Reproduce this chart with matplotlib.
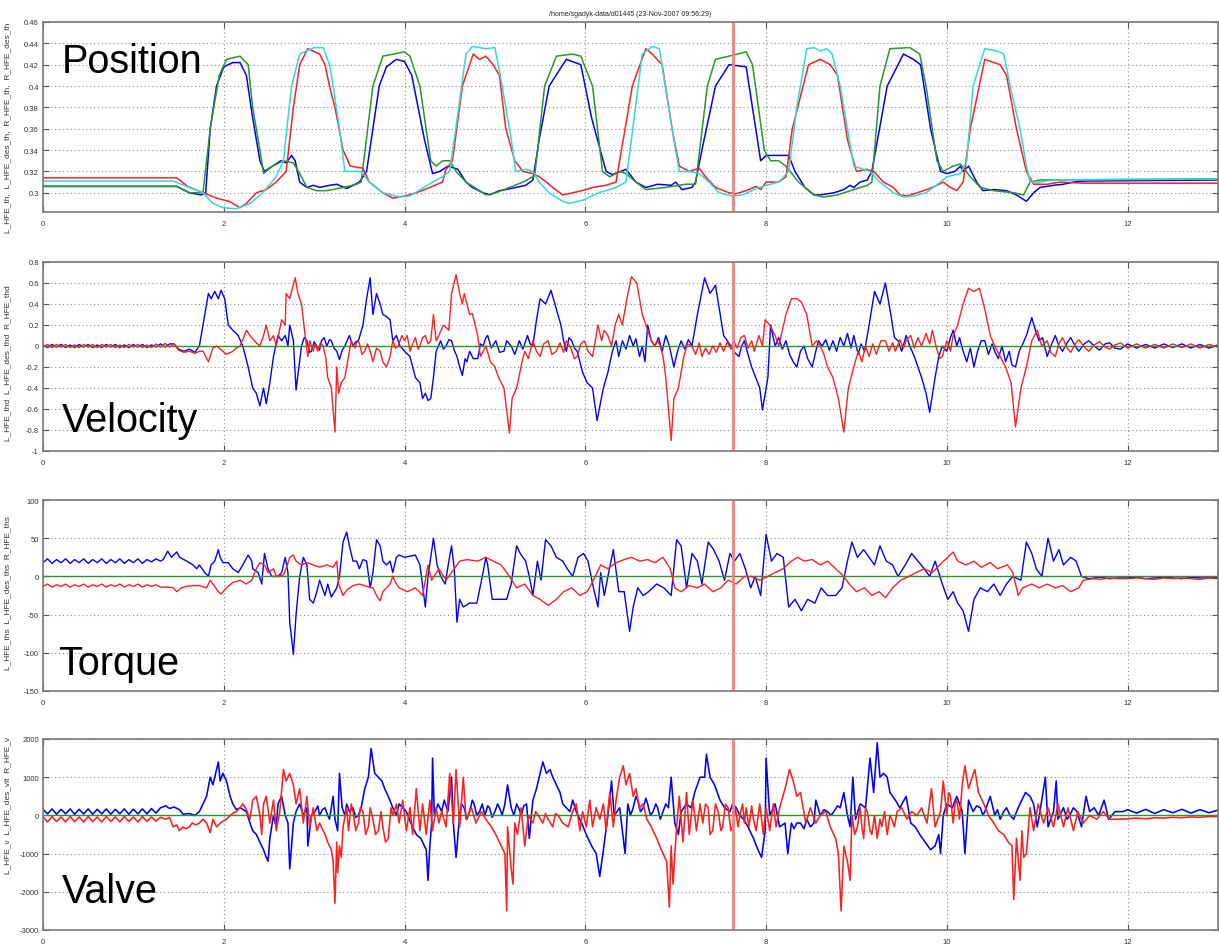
import matplotlib
matplotlib.use("Agg")
import matplotlib.pyplot as plt
import numpy as np

plt.rcParams['font.family'] = ['Liberation Sans', 'DejaVu Sans']

# ---------------- data (time in s) ----------------
rest_t = [0.0, 0.05, 0.1, 0.15, 0.2, 0.25, 0.3, 0.35, 0.4, 0.45, 0.5, 0.55, 0.6, 0.65,
          0.7, 0.75, 0.8, 0.85, 0.9, 0.95, 1.0, 1.05, 1.1, 1.15, 1.2, 1.25, 1.3, 1.35, 1.4]
tail_t = [12.0, 12.1, 12.2, 12.3, 12.4, 12.5, 12.6, 12.7, 12.8, 12.9, 13.0]

# Position (rad)
pos_blue = [(0, 0.306), (1.48, 0.306), (1.62, 0.300), (1.75, 0.298), (1.80, 0.30), (1.85, 0.36),
            (1.92, 0.40), (2.0, 0.418), (2.1, 0.422), (2.18, 0.422), (2.25, 0.41), (2.32, 0.37),
            (2.40, 0.33), (2.45, 0.32), (2.54, 0.325), (2.63, 0.33), (2.69, 0.328), (2.75, 0.335),
            (2.79, 0.33), (2.84, 0.31), (2.92, 0.305), (2.99, 0.307), (3.06, 0.305), (3.17, 0.307),
            (3.25, 0.308), (3.36, 0.304), (3.43, 0.307), (3.50, 0.31), (3.58, 0.32), (3.65, 0.36),
            (3.72, 0.40), (3.80, 0.418), (3.91, 0.425), (4.0, 0.423), (4.08, 0.41), (4.15, 0.38),
            (4.22, 0.35), (4.31, 0.318), (4.39, 0.32), (4.48, 0.325), (4.59, 0.322), (4.68, 0.31),
            (4.75, 0.305), (4.87, 0.30), (4.94, 0.298), (5.05, 0.302), (5.12, 0.303), (5.23, 0.305),
            (5.34, 0.307), (5.42, 0.312), (5.49, 0.35), (5.6, 0.40), (5.79, 0.425), (5.95, 0.42),
            (6.07, 0.37), (6.23, 0.32), (6.3, 0.317), (6.45, 0.322), (6.56, 0.31), (6.67, 0.305),
            (6.8, 0.308), (6.95, 0.307), (7.0, 0.31), (7.07, 0.303), (7.18, 0.305), (7.22, 0.31),
            (7.29, 0.34), (7.44, 0.40), (7.59, 0.42), (7.78, 0.418), (7.94, 0.33), (8.0, 0.335),
            (8.25, 0.335), (8.32, 0.32), (8.43, 0.305), (8.53, 0.298), (8.6, 0.298), (8.75, 0.30),
            (8.86, 0.303), (8.93, 0.307), (8.97, 0.305), (9.04, 0.31), (9.12, 0.312), (9.17, 0.32),
            (9.34, 0.40), (9.52, 0.43), (9.63, 0.425), (9.71, 0.42), (9.82, 0.36), (9.93, 0.32),
            (10.0, 0.318), (10.09, 0.32), (10.15, 0.325), (10.18, 0.32), (10.24, 0.325), (10.33, 0.31),
            (10.4, 0.302), (10.52, 0.303), (10.66, 0.302), (10.77, 0.298), (10.88, 0.292), (10.96, 0.30),
            (11.03, 0.305), (11.18, 0.307), (11.29, 0.308), (11.4, 0.31), (11.51, 0.311), (13.0, 0.312)]

pos_green = [(0, 0.306), (1.48, 0.306), (1.62, 0.30), (1.77, 0.30), (1.85, 0.36), (1.95, 0.41),
             (2.03, 0.425), (2.18, 0.428), (2.27, 0.42), (2.32, 0.38), (2.40, 0.34), (2.44, 0.318),
             (2.54, 0.325), (2.66, 0.33), (2.77, 0.328), (2.84, 0.318), (2.92, 0.305), (3.03, 0.302),
             (3.14, 0.302), (3.32, 0.305), (3.47, 0.308), (3.52, 0.31), (3.65, 0.40), (3.76, 0.428),
             (4.0, 0.432), (4.06, 0.428), (4.17, 0.40), (4.29, 0.33), (4.35, 0.325), (4.42, 0.33),
             (4.5, 0.33), (4.57, 0.32), (4.68, 0.31), (4.83, 0.302), (4.9, 0.298), (5.01, 0.30),
             (5.16, 0.305), (5.31, 0.31), (5.44, 0.316), (5.55, 0.40), (5.68, 0.428), (5.86, 0.43),
             (5.95, 0.428), (6.08, 0.40), (6.19, 0.32), (6.27, 0.315), (6.38, 0.32), (6.45, 0.318),
             (6.56, 0.31), (6.67, 0.303), (6.89, 0.305), (7.11, 0.308), (7.22, 0.308), (7.35, 0.40),
             (7.44, 0.425), (7.59, 0.428), (7.78, 0.432), (7.85, 0.42), (7.98, 0.34), (8.05, 0.33),
             (8.14, 0.33), (8.22, 0.325), (8.36, 0.31), (8.53, 0.298), (8.64, 0.296), (8.79, 0.298),
             (8.97, 0.303), (9.12, 0.307), (9.17, 0.31), (9.26, 0.40), (9.37, 0.435), (9.59, 0.436),
             (9.70, 0.43), (9.77, 0.40), (9.89, 0.33), (9.96, 0.32), (10.07, 0.325), (10.15, 0.327),
             (10.26, 0.315), (10.37, 0.305), (10.52, 0.302), (10.74, 0.30), (10.85, 0.298),
             (10.92, 0.31), (11.03, 0.312), (13.0, 0.313)]

pos_red = [(0, 0.314), (1.48, 0.314), (1.6, 0.306), (1.77, 0.30), (1.92, 0.295), (2.06, 0.292),
           (2.18, 0.286), (2.25, 0.29), (2.36, 0.30), (2.47, 0.303), (2.58, 0.31), (2.69, 0.32),
           (2.77, 0.38), (2.84, 0.42), (2.93, 0.435), (3.06, 0.43), (3.12, 0.42), (3.17, 0.40),
           (3.23, 0.38), (3.32, 0.34), (3.40, 0.325), (3.54, 0.323), (3.61, 0.31), (3.76, 0.30),
           (3.87, 0.295), (4.0, 0.297), (4.13, 0.30), (4.28, 0.305), (4.42, 0.31), (4.46, 0.322),
           (4.53, 0.33), (4.64, 0.40), (4.76, 0.43), (4.83, 0.425), (4.90, 0.428), (4.98, 0.42),
           (5.05, 0.41), (5.12, 0.36), (5.22, 0.33), (5.31, 0.32), (5.42, 0.318), (5.49, 0.315),
           (5.57, 0.31), (5.64, 0.305), (5.75, 0.298), (5.86, 0.30), (6.01, 0.303), (6.08, 0.305),
           (6.23, 0.307), (6.34, 0.31), (6.52, 0.40), (6.67, 0.435), (6.74, 0.43), (6.85, 0.42),
           (6.96, 0.36), (7.04, 0.325), (7.15, 0.32), (7.26, 0.323), (7.33, 0.315), (7.44, 0.305),
           (7.59, 0.30), (7.66, 0.299), (7.78, 0.302), (7.89, 0.306), (7.94, 0.303), (8.0, 0.31),
           (8.14, 0.31), (8.22, 0.315), (8.29, 0.36), (8.47, 0.42), (8.6, 0.425), (8.71, 0.42),
           (8.79, 0.41), (8.9, 0.35), (9.0, 0.32), (9.11, 0.322), (9.19, 0.32), (9.30, 0.31),
           (9.41, 0.305), (9.48, 0.298), (9.56, 0.297), (9.67, 0.30), (9.78, 0.303), (9.89, 0.307),
           (9.96, 0.31), (10.04, 0.305), (10.11, 0.302), (10.18, 0.31), (10.26, 0.36), (10.42, 0.425),
           (10.59, 0.42), (10.66, 0.41), (10.77, 0.36), (10.88, 0.32), (10.96, 0.308), (11.11, 0.308),
           (11.25, 0.31), (11.51, 0.309), (13.0, 0.309)]

pos_cyan = [(0, 0.311), (1.44, 0.311), (1.77, 0.30), (1.88, 0.29), (1.99, 0.286), (2.14, 0.285),
            (2.29, 0.29), (2.43, 0.30), (2.58, 0.315), (2.66, 0.33), (2.75, 0.40), (2.84, 0.43),
            (3.0, 0.436), (3.1, 0.436), (3.17, 0.42), (3.21, 0.40), (3.28, 0.36), (3.34, 0.32),
            (3.52, 0.32), (3.61, 0.31), (3.76, 0.30), (3.95, 0.296), (4.06, 0.297), (4.31, 0.31),
            (4.42, 0.315), (4.5, 0.32), (4.6, 0.38), (4.68, 0.43), (4.75, 0.437), (4.9, 0.435),
            (5.0, 0.436), (5.08, 0.40), (5.18, 0.35), (5.23, 0.32), (5.34, 0.322), (5.42, 0.32),
            (5.49, 0.31), (5.6, 0.30), (5.75, 0.292), (5.82, 0.29), (5.97, 0.293), (6.15, 0.30),
            (6.34, 0.305), (6.45, 0.31), (6.54, 0.37), (6.63, 0.43), (6.74, 0.437), (6.82, 0.435),
            (6.96, 0.36), (7.04, 0.32), (7.15, 0.32), (7.26, 0.318), (7.37, 0.31), (7.48, 0.30),
            (7.63, 0.297), (7.74, 0.298), (7.92, 0.305), (8.14, 0.31), (8.25, 0.32), (8.34, 0.38),
            (8.45, 0.435), (8.53, 0.436), (8.6, 0.433), (8.67, 0.435), (8.73, 0.43), (8.82, 0.40),
            (8.9, 0.36), (8.97, 0.325), (9.08, 0.322), (9.15, 0.32), (9.26, 0.31), (9.41, 0.30),
            (9.52, 0.296), (9.63, 0.297), (9.77, 0.30), (9.93, 0.31), (10.0, 0.315), (10.15, 0.318),
            (10.22, 0.33), (10.29, 0.40), (10.42, 0.435), (10.55, 0.433), (10.63, 0.43), (10.7, 0.40),
            (10.81, 0.36), (10.88, 0.325), (10.92, 0.31), (11.03, 0.31), (11.18, 0.312), (13.0, 0.313)]

# Velocity (rad/s)
vel_blue_rest = [0.01, -0.015, 0.015, -0.01, 0.015, -0.015, 0.01, -0.015, 0.015, -0.01, 0.015,
                 -0.015, 0.01, -0.015, 0.015, -0.01, 0.015, -0.015, 0.01, -0.015, 0.015, -0.01,
                 0.015, -0.015, 0.01, -0.01, 0.02, -0.01, 0.02]
vel_red_rest = [-0.01, 0.015, -0.015, 0.015, -0.01, 0.015, -0.015, 0.01, -0.015, 0.015, -0.01,
                0.015, -0.015, 0.015, -0.01, 0.015, -0.015, 0.01, -0.015, 0.015, -0.01, 0.015,
                -0.015, 0.01, -0.015, 0.02, -0.01, 0.025, -0.01]
vel_blue = [(1.45, 0.02), (1.50, -0.03), (1.56, -0.05), (1.62, -0.03), (1.68, -0.06), (1.73, 0.0),
            (1.79, 0.3), (1.83, 0.5), (1.86, 0.45), (1.90, 0.52), (1.94, 0.45), (1.97, 0.53),
            (2.01, 0.45), (2.05, 0.2), (2.10, 0.15), (2.16, 0.1), (2.21, 0.0), (2.27, -0.2),
            (2.32, -0.4), (2.36, -0.45), (2.40, -0.57), (2.44, -0.4), (2.47, -0.55), (2.51, -0.35),
            (2.55, -0.1), (2.60, 0.1), (2.64, 0.05), (2.68, 0.1), (2.71, 0.0), (2.73, 0.2),
            (2.77, 0.05), (2.80, -0.42), (2.86, 0.0), (2.89, 0.08), (2.92, 0.05), (2.95, -0.06),
            (2.97, -0.05), (3.00, 0.04), (3.03, 0.0), (3.06, -0.04), (3.08, 0.05), (3.11, 0.08),
            (3.14, 0.0), (3.17, 0.06), (3.19, 0.05), (3.22, -0.02), (3.25, -0.05), (3.28, -0.13),
            (3.31, -0.04), (3.34, 0.0), (3.37, 0.06), (3.39, 0.1), (3.43, 0.0), (3.46, 0.04),
            (3.49, 0.05), (3.54, 0.2), (3.58, 0.45), (3.62, 0.65), (3.65, 0.3), (3.69, 0.5),
            (3.73, 0.4), (3.76, 0.3), (3.80, 0.28), (3.84, 0.25), (3.87, 0.05), (3.91, 0.1),
            (3.95, 0.0), (4.00, -0.05), (4.06, -0.1), (4.12, -0.3), (4.17, -0.35), (4.20, -0.5),
            (4.23, -0.45), (4.26, -0.52), (4.29, -0.5), (4.32, -0.3), (4.35, -0.05), (4.40, 0.05),
            (4.43, -0.03), (4.46, 0.0), (4.49, 0.06), (4.52, 0.05), (4.55, -0.04), (4.58, -0.1),
            (4.61, -0.2), (4.64, -0.28), (4.67, -0.12), (4.69, -0.15), (4.72, -0.05), (4.76, -0.12),
            (4.81, -0.12), (4.84, 0.02), (4.87, 0.0), (4.90, 0.08), (4.92, 0.1), (4.96, -0.02),
            (5.01, 0.05), (5.05, -0.06), (5.10, -0.05), (5.13, 0.05), (5.18, 0.0), (5.22, -0.08),
            (5.27, 0.05), (5.31, -0.03), (5.36, 0.1), (5.39, 0.02), (5.42, 0.0), (5.46, 0.25),
            (5.50, 0.45), (5.56, 0.4), (5.62, 0.53), (5.68, 0.35), (5.73, 0.2), (5.76, 0.05),
            (5.79, -0.05), (5.82, 0.08), (5.85, 0.05), (5.88, -0.02), (5.91, -0.05), (5.94, -0.15),
            (5.97, -0.25), (6.02, -0.35), (6.08, -0.4), (6.13, -0.71), (6.20, -0.4), (6.25, -0.25),
            (6.30, -0.05), (6.34, 0.05), (6.37, -0.1), (6.41, 0.05), (6.45, -0.03), (6.49, 0.1),
            (6.53, 0.0), (6.56, 0.07), (6.60, -0.1), (6.63, 0.0), (6.66, -0.15), (6.69, 0.2),
            (6.73, 0.05), (6.77, 0.0), (6.81, 0.08), (6.85, -0.05), (6.89, 0.1), (6.93, 0.0),
            (6.98, -0.2), (7.02, -0.05), (7.06, 0.05), (7.10, -0.03), (7.14, 0.06), (7.18, 0.0),
            (7.24, 0.3), (7.32, 0.65), (7.38, 0.5), (7.44, 0.58), (7.53, 0.1), (7.57, 0.05),
            (7.61, 0.0), (7.65, -0.06), (7.70, -0.1), (7.73, 0.0), (7.76, 0.05), (7.80, -0.08),
            (7.84, -0.2), (7.93, -0.4), (7.96, -0.61), (8.02, -0.3), (8.05, 0.2), (8.10, 0.0),
            (8.14, 0.08), (8.18, -0.03), (8.22, 0.05), (8.26, -0.08), (8.30, -0.15), (8.34, -0.2),
            (8.38, -0.05), (8.42, 0.0), (8.46, -0.12), (8.51, -0.2), (8.55, -0.05), (8.58, 0.05),
            (8.62, 0.0), (8.66, 0.06), (8.70, -0.04), (8.74, 0.05), (8.78, -0.05), (8.82, 0.08),
            (8.86, 0.0), (8.90, 0.12), (8.94, -0.02), (8.97, 0.1), (9.02, -0.08), (9.05, 0.02),
            (9.09, -0.05), (9.14, 0.2), (9.20, 0.52), (9.26, 0.4), (9.32, 0.6), (9.38, 0.3),
            (9.42, 0.08), (9.46, 0.05), (9.50, -0.05), (9.55, 0.1), (9.59, 0.0), (9.64, -0.1),
            (9.68, -0.2), (9.72, -0.3), (9.77, -0.45), (9.81, -0.63), (9.87, -0.3), (9.91, -0.1),
            (9.95, 0.0), (10.00, -0.05), (10.04, 0.08), (10.07, 0.15), (10.11, 0.0), (10.14, 0.08),
            (10.18, -0.05), (10.22, -0.15), (10.26, -0.02), (10.30, -0.2), (10.34, -0.05),
            (10.38, 0.05), (10.42, 0.05), (10.46, -0.08), (10.50, 0.02), (10.53, -0.05),
            (10.57, -0.12), (10.61, 0.0), (10.65, -0.15), (10.69, -0.05), (10.72, -0.18),
            (10.76, -0.2), (10.80, -0.05), (10.84, 0.02), (10.88, 0.1), (10.94, 0.27), (10.98, 0.15),
            (11.02, 0.05), (11.06, 0.08), (11.11, -0.1), (11.16, 0.02), (11.20, 0.1), (11.24, 0.0),
            (11.28, -0.05), (11.33, 0.03), (11.37, 0.08), (11.42, 0.0), (11.46, -0.05), (11.52, 0.02),
            (11.57, 0.05), (11.63, 0.0), (11.69, -0.04), (11.75, 0.02), (11.80, 0.03), (11.86, -0.02),
            (11.92, -0.03)]
vel_red = [(1.45, 0.02), (1.50, -0.04), (1.56, -0.06), (1.62, -0.05), (1.68, -0.07), (1.73, -0.05),
           (1.77, -0.05), (1.83, -0.15), (1.88, -0.02), (1.92, 0.0), (1.99, -0.05), (2.03, -0.08),
           (2.10, -0.05), (2.14, -0.02), (2.18, 0.0), (2.22, 0.08), (2.25, 0.15), (2.29, 0.1),
           (2.33, 0.06), (2.36, 0.03), (2.40, 0.0), (2.44, 0.1), (2.47, 0.2), (2.51, 0.05),
           (2.55, 0.1), (2.58, 0.0), (2.61, 0.12), (2.64, 0.25), (2.68, 0.2), (2.69, 0.5),
           (2.73, 0.45), (2.76, 0.55), (2.79, 0.65), (2.82, 0.5), (2.86, 0.4), (2.90, 0.1),
           (2.93, -0.1), (2.95, 0.05), (2.99, -0.05), (3.01, 0.02), (3.04, -0.05), (3.07, 0.03),
           (3.10, 0.0), (3.13, -0.12), (3.15, -0.3), (3.19, -0.4), (3.23, -0.82), (3.25, -0.2),
           (3.27, -0.45), (3.30, -0.35), (3.34, -0.3), (3.38, -0.1), (3.41, 0.05), (3.45, -0.02),
           (3.48, 0.05), (3.50, 0.03), (3.53, -0.08), (3.56, -0.05), (3.59, 0.02), (3.62, -0.05),
           (3.65, -0.15), (3.69, -0.02), (3.73, -0.05), (3.76, -0.15), (3.80, -0.2), (3.84, -0.1),
           (3.87, 0.05), (3.90, -0.02), (3.93, 0.0), (3.97, 0.1), (4.00, 0.05), (4.03, 0.1),
           (4.06, -0.05), (4.09, 0.02), (4.12, 0.08), (4.15, -0.03), (4.17, 0.0), (4.20, 0.08),
           (4.23, 0.1), (4.26, 0.02), (4.29, 0.05), (4.32, 0.3), (4.35, 0.05), (4.38, 0.1),
           (4.43, 0.2), (4.49, 0.15), (4.52, 0.5), (4.57, 0.68), (4.61, 0.5), (4.64, 0.4),
           (4.66, 0.5), (4.72, 0.3), (4.75, 0.31), (4.81, 0.1), (4.84, -0.1), (4.90, 0.0),
           (4.95, -0.15), (5.00, -0.2), (5.04, -0.3), (5.10, -0.4), (5.16, -0.83), (5.19, -0.5),
           (5.24, -0.4), (5.30, -0.15), (5.33, -0.05), (5.37, -0.12), (5.42, 0.05), (5.46, -0.05),
           (5.50, -0.1), (5.54, 0.02), (5.59, 0.05), (5.63, -0.08), (5.68, -0.05), (5.72, 0.03),
           (5.76, -0.06), (5.79, 0.05), (5.84, -0.02), (5.88, -0.12), (5.91, -0.1), (5.95, 0.02),
           (5.99, 0.05), (6.03, -0.05), (6.08, -0.1), (6.14, 0.2), (6.18, 0.05), (6.21, 0.15),
           (6.25, 0.1), (6.29, 0.0), (6.33, 0.2), (6.37, 0.3), (6.41, 0.2), (6.46, 0.45),
           (6.51, 0.66), (6.57, 0.6), (6.63, 0.3), (6.69, 0.15), (6.73, 0.05), (6.77, 0.0),
           (6.80, 0.05), (6.83, 0.0), (6.86, -0.1), (6.89, -0.3), (6.95, -0.9), (6.98, -0.5),
           (7.03, -0.4), (7.09, -0.1), (7.13, 0.02), (7.18, 0.0), (7.22, -0.08), (7.26, 0.03),
           (7.29, -0.1), (7.33, -0.02), (7.37, -0.08), (7.41, 0.0), (7.45, -0.06), (7.49, 0.03),
           (7.53, -0.05), (7.57, 0.04), (7.61, -0.03), (7.64, 0.05), (7.68, -0.02), (7.72, 0.08),
           (7.76, 0.1), (7.80, -0.02), (7.84, 0.05), (7.87, -0.05), (7.92, 0.1), (7.96, 0.0),
           (7.99, 0.25), (8.04, 0.2), (8.10, 0.1), (8.14, 0.0), (8.18, 0.15), (8.22, 0.3),
           (8.28, 0.45), (8.34, 0.45), (8.39, 0.42), (8.45, 0.3), (8.51, 0.0), (8.56, 0.05),
           (8.60, 0.0), (8.64, -0.08), (8.68, -0.2), (8.74, -0.3), (8.80, -0.5), (8.86, -0.82),
           (8.91, -0.4), (8.97, -0.2), (9.02, -0.05), (9.06, -0.15), (9.10, 0.0), (9.14, -0.1),
           (9.18, 0.02), (9.22, -0.08), (9.27, 0.05), (9.32, 0.05), (9.36, -0.05), (9.40, 0.03),
           (9.43, -0.05), (9.48, 0.06), (9.52, -0.02), (9.55, 0.05), (9.60, 0.1), (9.64, -0.02),
           (9.68, 0.08), (9.72, 0.0), (9.77, 0.12), (9.81, 0.02), (9.84, 0.15), (9.88, 0.0),
           (9.92, -0.12), (9.95, -0.1), (10.00, 0.05), (10.04, -0.05), (10.07, 0.1), (10.12, 0.2),
           (10.18, 0.4), (10.24, 0.55), (10.30, 0.52), (10.36, 0.55), (10.42, 0.35), (10.48, 0.1),
           (10.53, 0.0), (10.59, -0.1), (10.65, -0.2), (10.71, -0.35), (10.76, -0.77), (10.82, -0.4),
           (10.88, -0.2), (10.94, 0.05), (11.00, 0.15), (11.05, 0.0), (11.11, 0.05), (11.15, -0.06),
           (11.20, -0.1), (11.24, 0.02), (11.28, 0.08), (11.33, -0.02), (11.37, -0.06), (11.42, 0.02),
           (11.46, 0.06), (11.52, -0.01), (11.57, -0.05), (11.63, 0.01), (11.69, 0.04), (11.75, -0.01),
           (11.80, -0.03), (11.86, 0.01), (11.92, 0.03)]
vel_blue_tail = [0.02, -0.02, 0.015, -0.02, 0.02, -0.015, 0.02, -0.02, 0.015, -0.02, 0.01]
vel_red_tail = [-0.02, 0.02, -0.02, 0.015, -0.02, 0.02, -0.015, 0.02, -0.02, 0.015, -0.01]

# Torque (Nm)
trq_blue_rest = [18, 23, 17, 22, 18, 23, 17, 22, 18, 23, 17, 22, 18, 23, 17, 22, 18, 23, 17, 22,
                 18, 23, 17, 22, 19, 23, 20]
trq_red_rest = [-13, -10, -14, -11, -13, -10, -14, -11, -13, -10, -14, -11, -13, -10, -14, -11,
                -13, -10, -14, -11, -13, -10, -14, -11, -13, -11, -14]
trq_blue = [(1.33, 22), (1.38, 33), (1.42, 25), (1.48, 32), (1.51, 25), (1.59, 20), (1.66, 15),
            (1.70, 10), (1.73, 15), (1.79, 5), (1.83, 0), (1.86, 15), (1.90, 20), (1.94, 35),
            (1.96, 25), (1.99, 18), (2.05, 18), (2.10, 10), (2.16, 5), (2.21, 15), (2.27, 28),
            (2.31, 20), (2.32, 10), (2.38, 5), (2.42, -10), (2.45, 30), (2.49, 10), (2.53, 0),
            (2.60, 0), (2.64, 5), (2.68, 25), (2.71, 5), (2.73, -60), (2.77, -102), (2.80, -50),
            (2.84, 0), (2.88, 25), (2.92, 15), (2.95, -30), (2.99, -35), (3.03, -20), (3.06, -5),
            (3.12, -25), (3.15, -10), (3.19, -27), (3.25, -15), (3.28, 0), (3.32, 45), (3.36, 58),
            (3.39, 40), (3.43, 20), (3.47, 20), (3.50, 10), (3.54, 22), (3.58, 20), (3.62, -15),
            (3.65, 5), (3.69, 48), (3.73, 40), (3.76, 20), (3.80, 15), (3.84, 20), (3.87, 5),
            (3.91, 25), (3.94, 28), (4.00, 25), (4.12, 28), (4.17, 15), (4.23, -40), (4.26, 0),
            (4.29, 25), (4.32, 50), (4.36, 15), (4.40, 0), (4.45, -10), (4.49, 20), (4.52, 40),
            (4.55, 10), (4.58, -60), (4.61, -30), (4.65, -40), (4.72, -35), (4.80, -35), (4.86, 0),
            (4.90, 25), (4.92, 15), (4.97, -30), (5.04, -30), (5.13, -30), (5.18, -10), (5.24, 40),
            (5.28, 30), (5.34, 20), (5.38, 0), (5.42, -25), (5.47, 20), (5.51, -5), (5.56, 48),
            (5.62, 40), (5.68, 25), (5.75, 20), (5.80, 10), (5.86, 0), (5.92, 25), (5.98, 30),
            (6.03, 20), (6.09, -15), (6.14, -40), (6.17, 5), (6.21, -25), (6.25, 0), (6.31, 35),
            (6.37, -20), (6.43, -20), (6.49, -72), (6.53, -40), (6.58, -15), (6.64, -25),
            (6.70, -20), (6.79, -10), (6.87, -15), (6.95, -25), (7.01, 48), (7.06, 40), (7.12, -15),
            (7.18, 30), (7.24, 20), (7.29, -10), (7.36, 45), (7.42, 35), (7.48, 20), (7.54, -5),
            (7.60, 30), (7.65, 20), (7.71, 30), (7.77, 10), (7.83, -15), (7.88, 0), (7.94, -25),
            (8.00, 55), (8.06, 20), (8.12, 30), (8.19, 25), (8.25, -40), (8.32, -30), (8.39, -45),
            (8.46, -30), (8.54, -35), (8.61, -15), (8.68, -25), (8.77, -25), (8.84, -15), (8.90, 20),
            (8.95, 45), (9.01, 25), (9.08, 35), (9.14, 25), (9.20, 15), (9.26, 40), (9.33, 20),
            (9.40, 15), (9.46, 0), (9.54, 15), (9.61, 30), (9.68, 20), (9.75, 10), (9.81, 0),
            (9.87, 20), (9.95, -10), (10.01, -30), (10.07, -20), (10.12, -35), (10.18, -45),
            (10.24, -72), (10.30, -30), (10.37, -15), (10.45, -20), (10.52, -10), (10.59, -25),
            (10.66, -10), (10.73, 0), (10.82, -5), (10.88, 45), (10.94, 30), (10.99, 10), (11.05, 0),
            (11.12, 50), (11.18, 20), (11.24, 35), (11.29, 15), (11.37, 25), (11.43, 20), (11.49, 0),
            (11.57, -3), (11.7, -1), (11.8, -3), (11.9, -2)]
trq_red = [(1.37, -14), (1.44, -15), (1.48, -20), (1.53, -15), (1.59, -13), (1.66, -12), (1.73, -12),
           (1.81, -15), (1.85, -5), (1.88, -10), (1.94, -20), (1.97, -23), (2.03, -15), (2.10, -8),
           (2.18, -5), (2.25, -10), (2.31, -5), (2.36, 10), (2.40, 18), (2.45, 15), (2.49, 5),
           (2.55, 10), (2.58, 0), (2.66, 2), (2.69, 10), (2.73, 25), (2.77, 28), (2.80, 20),
           (2.86, 15), (2.92, 18), (2.99, 15), (3.06, 12), (3.14, 15), (3.21, 12), (3.25, 20),
           (3.27, -10), (3.32, -25), (3.36, -18), (3.43, -12), (3.50, -10), (3.58, -13), (3.65, -15),
           (3.69, -25), (3.73, -32), (3.76, -20), (3.84, -10), (3.87, 0), (3.90, -8), (3.94, -15),
           (4.03, -20), (4.12, -15), (4.20, -25), (4.26, 15), (4.30, -5), (4.38, 10), (4.46, -5),
           (4.55, 10), (4.61, 20), (4.69, 22), (4.81, 20), (4.90, 25), (4.98, 20), (5.07, 15),
           (5.16, 0), (5.24, -15), (5.33, -10), (5.42, -25), (5.50, -30), (5.59, -38), (5.68, -30),
           (5.76, -20), (5.85, -15), (5.94, -25), (6.02, -20), (6.09, -5), (6.17, 15), (6.25, 10),
           (6.34, 18), (6.43, 22), (6.51, 25), (6.60, 20), (6.69, 22), (6.77, 18), (6.86, 25),
           (6.94, 10), (6.99, -15), (7.06, -20), (7.15, -12), (7.24, -15), (7.32, -10), (7.41, -20),
           (7.50, -15), (7.58, -5), (7.67, -10), (7.76, 0), (7.84, 0), (7.93, -5), (8.02, 0),
           (8.10, 5), (8.19, 10), (8.28, 20), (8.35, 25), (8.42, 20), (8.51, 22), (8.60, 15),
           (8.68, 20), (8.77, 10), (8.86, 0), (8.92, -10), (9.00, -20), (9.09, -15), (9.17, -25),
           (9.25, -20), (9.32, -28), (9.40, -15), (9.49, -5), (9.58, 0), (9.66, 5), (9.75, 10),
           (9.84, 5), (9.92, 15), (10.01, 25), (10.07, 32), (10.12, 20), (10.21, 15), (10.30, 20),
           (10.38, 12), (10.48, 18), (10.56, 10), (10.67, 15), (10.73, 5), (10.79, -25),
           (10.84, -15), (10.94, -10), (11.02, -15), (11.11, -10), (11.20, -15), (11.28, -12),
           (11.37, -20), (11.46, -15), (11.51, -5), (11.62, -3), (11.7, -4), (11.8, -2), (11.9, -3)]
trq_blue_tail = [-2, -1, -3, -2, -1, -2, -3, -1, -2, -2, -1]
trq_red_tail = [-3, -2, -3, -4, -2, -3, -2, -3, -4, -2, -3]

# Valve command
vlv_blue_rest = [160, 40, 170, 30, 160, 40, 170, 30, 160, 40, 170, 30, 160, 40, 170, 30, 160, 40,
                 170, 30, 160, 40, 170, 40, 180, 60, 200]
vlv_red_rest = [-40, -170, -30, -160, -40, -170, -30, -160, -40, -170, -30, -160, -40, -170, -30,
                -160, -40, -170, -30, -160, -40, -170, -30, -160, -40, -150, -50]
vlv_blue = [(1.36, 250), (1.40, 180), (1.45, 220), (1.51, 150), (1.55, 30), (1.62, 50), (1.68, 0),
            (1.73, 100), (1.81, 500), (1.85, 1000), (1.88, 800), (1.92, 1200), (1.94, 1400),
            (1.96, 900), (1.99, 1100), (2.03, 900), (2.07, 500), (2.10, 300), (2.14, 150),
            (2.18, 200), (2.25, 100), (2.29, -200), (2.32, -400), (2.36, -500), (2.40, -700),
            (2.44, -900), (2.47, -1100), (2.49, -1200), (2.51, -600), (2.55, 0), (2.58, -300),
            (2.60, 300), (2.64, 500), (2.68, 0), (2.71, -200), (2.73, -1400), (2.77, -200),
            (2.80, 100), (2.84, 300), (2.88, 0), (2.92, 200), (2.93, -800), (2.97, 0), (3.01, 100),
            (3.04, 250), (3.06, 0), (3.09, 150), (3.12, 200), (3.15, 0), (3.17, -100), (3.21, 500),
            (3.23, -100), (3.26, -400), (3.28, 1100), (3.31, 200), (3.34, 0), (3.36, 300),
            (3.39, 100), (3.43, 200), (3.46, -50), (3.49, 0), (3.52, 200), (3.56, 700), (3.60, 1000),
            (3.63, 1750), (3.67, 1100), (3.71, 1000), (3.75, 900), (3.78, 700), (3.82, 500),
            (3.87, 200), (3.91, 0), (3.94, 300), (4.02, 100), (4.07, -200), (4.13, -500),
            (4.18, -600), (4.24, -900), (4.26, -1700), (4.28, -800), (4.30, -200), (4.31, 1500),
            (4.33, 0), (4.37, 300), (4.41, 100), (4.44, 400), (4.48, 100), (4.52, 1000), (4.54, -200),
            (4.57, -1100), (4.61, 0), (4.63, 300), (4.66, 200), (4.69, -100), (4.72, 100),
            (4.75, 400), (4.77, 300), (4.80, 0), (4.83, 100), (4.86, 300), (4.89, 0), (4.92, 250),
            (4.94, 200), (4.97, -50), (5.00, 100), (5.03, 300), (5.05, 200), (5.08, 0), (5.11, 300),
            (5.14, 800), (5.18, 200), (5.21, 0), (5.24, 300), (5.27, 150), (5.29, 0), (5.32, 250),
            (5.35, 300), (5.38, -600), (5.42, 400), (5.46, 700), (5.49, 1000), (5.53, 1400),
            (5.57, 1100), (5.61, 1200), (5.64, 1000), (5.68, 800), (5.72, 600), (5.75, 300),
            (5.79, 200), (5.83, 100), (5.86, 400), (5.90, 100), (5.96, -200), (6.01, -500),
            (6.07, -800), (6.12, -1000), (6.16, -1600), (6.20, -900), (6.25, 0), (6.29, 900),
            (6.32, 0), (6.38, 200), (6.44, -1000), (6.47, 300), (6.50, 0), (6.53, 200), (6.56, 500),
            (6.58, 400), (6.61, 100), (6.64, 200), (6.67, 450), (6.69, 300), (6.72, 0), (6.75, 100),
            (6.78, 300), (6.80, 200), (6.83, -100), (6.86, 100), (6.89, 300), (6.92, 200),
            (6.95, 1000), (6.99, -200), (7.03, -500), (7.06, 100), (7.12, 300), (7.17, 200),
            (7.21, 600), (7.27, 1000), (7.32, 1000), (7.34, 1600), (7.38, 1000), (7.43, 800),
            (7.49, 400), (7.54, 200), (7.60, 100), (7.63, 300), (7.67, 200), (7.71, 0),
            (7.75, -100), (7.80, -300), (7.86, -600), (7.91, -900), (7.95, -1100), (7.99, -400),
            (8.00, 1500), (8.04, 0), (8.10, 300), (8.15, -300), (8.21, -200), (8.24, -1000),
            (8.28, -200), (8.31, -350), (8.34, -200), (8.38, -200), (8.42, -350), (8.45, -100),
            (8.49, -300), (8.53, -200), (8.55, 400), (8.60, 0), (8.64, 150), (8.68, 100), (8.72, 0),
            (8.75, 100), (8.79, 250), (8.82, 200), (8.86, 600), (8.90, 0), (8.93, -300), (8.96, 1000),
            (8.99, -100), (9.04, 300), (9.10, 200), (9.15, 1500), (9.19, 600), (9.23, 1900),
            (9.26, 1000), (9.30, 1100), (9.34, 1000), (9.37, 600), (9.43, 400), (9.48, 200),
            (9.55, 500), (9.60, -200), (9.65, -300), (9.70, -500), (9.76, -700), (9.82, -900),
            (9.87, -800), (9.91, -500), (9.93, -1000), (9.96, 0), (10.00, 300), (10.06, 200),
            (10.11, 500), (10.17, 100), (10.20, -1000), (10.24, 400), (10.29, 100), (10.33, 250),
            (10.37, 200), (10.40, 0), (10.42, 100), (10.45, 300), (10.48, 500), (10.53, 0),
            (10.56, 150), (10.59, -100), (10.63, 100), (10.66, 200), (10.70, 0), (10.74, -100),
            (10.78, 150), (10.81, 300), (10.87, 600), (10.92, 500), (10.96, 300), (11.00, -300),
            (11.03, 100), (11.09, 1000), (11.12, -300), (11.18, 100), (11.21, 900), (11.23, -100),
            (11.29, 200), (11.33, -100), (11.36, 0), (11.40, 200), (11.44, 100), (11.49, -300),
            (11.54, 500), (11.58, 100), (11.63, 200), (11.68, 0), (11.74, 400), (11.79, -100),
            (11.86, 100), (11.95, 100)]
vlv_red = [(1.36, -100), (1.40, -50), (1.44, -300), (1.48, -250), (1.51, -400), (1.55, -300),
           (1.58, -350), (1.62, -300), (1.65, -200), (1.69, -250), (1.73, -200), (1.77, -100),
           (1.81, -200), (1.85, -450), (1.88, -100), (1.92, -300), (1.96, -200), (1.99, -150),
           (2.03, -100), (2.07, 0), (2.10, 50), (2.14, 100), (2.18, 200), (2.21, 300), (2.25, 150),
           (2.29, -100), (2.32, 400), (2.36, 500), (2.40, 0), (2.42, -500), (2.44, 300), (2.47, 500),
           (2.51, -200), (2.55, 400), (2.58, -400), (2.62, 100), (2.66, 1200), (2.69, 900),
           (2.73, 1100), (2.77, 800), (2.80, 300), (2.84, 700), (2.88, -200), (2.92, 500),
           (2.95, -300), (2.99, 200), (3.03, -400), (3.06, -200), (3.12, -500), (3.15, -700),
           (3.19, -900), (3.21, -1200), (3.23, -2300), (3.25, -700), (3.26, -1500), (3.28, -800),
           (3.30, -1100), (3.32, -300), (3.36, 200), (3.38, -400), (3.41, 300), (3.43, 100),
           (3.46, -400), (3.49, -200), (3.51, 200), (3.54, 100), (3.57, -500), (3.60, -300),
           (3.62, 200), (3.65, -100), (3.68, -500), (3.71, -400), (3.74, 100), (3.76, -300),
           (3.79, -700), (3.82, -600), (3.85, 200), (3.87, 0), (3.91, 300), (3.94, -200),
           (3.98, 400), (4.02, -400), (4.06, 200), (4.09, -500), (4.13, 700), (4.17, -400),
           (4.20, 300), (4.24, -500), (4.28, 400), (4.31, -400), (4.35, 200), (4.38, -200),
           (4.41, 100), (4.46, -300), (4.50, 1100), (4.54, -200), (4.57, 1200), (4.61, -300),
           (4.65, 1000), (4.68, -100), (4.74, 200), (4.79, -200), (4.85, 100), (4.90, -100),
           (4.96, -300), (5.01, -500), (5.07, -800), (5.11, -1000), (5.13, -2500), (5.14, -300),
           (5.18, -1400), (5.20, -1800), (5.22, -200), (5.25, -500), (5.29, 200), (5.33, -800),
           (5.37, 0), (5.42, -200), (5.45, 100), (5.48, 0), (5.53, -200), (5.56, 50), (5.59, -100),
           (5.64, -300), (5.67, 50), (5.70, 0), (5.75, -200), (5.81, -300), (5.86, 100), (5.90, 300),
           (5.94, -400), (5.97, 100), (6.01, -300), (6.05, 400), (6.08, -300), (6.12, 200),
           (6.16, -100), (6.20, 300), (6.23, -400), (6.27, 600), (6.31, -300), (6.34, 400),
           (6.38, 1000), (6.42, 1300), (6.45, 800), (6.49, 1100), (6.53, 500), (6.56, 700),
           (6.60, 200), (6.64, 300), (6.68, -100), (6.73, -300), (6.79, -600), (6.84, -900),
           (6.90, -1200), (6.93, -2400), (6.95, -800), (6.97, -1800), (7.01, -300), (7.04, 500),
           (7.08, -700), (7.12, 600), (7.15, -500), (7.19, 400), (7.23, -400), (7.27, 300),
           (7.30, -200), (7.33, 300), (7.36, 200), (7.38, -500), (7.41, -400), (7.44, 300),
           (7.47, 100), (7.50, -400), (7.52, -300), (7.55, 300), (7.58, 200), (7.61, -400),
           (7.63, -300), (7.66, 200), (7.69, -300), (7.71, 0), (7.74, 300), (7.76, -200),
           (7.78, 200), (7.81, -300), (7.84, 250), (7.86, -100), (7.89, -400), (7.93, 300),
           (7.97, -500), (8.00, 200), (8.04, -400), (8.08, 300), (8.11, -300), (8.15, 200),
           (8.21, 700), (8.26, 1200), (8.30, 900), (8.34, 500), (8.38, 600), (8.44, -200),
           (8.49, 200), (8.55, -200), (8.60, 0), (8.66, 100), (8.71, -300), (8.77, -600),
           (8.80, -1000), (8.83, -2500), (8.86, -800), (8.90, -1200), (8.93, -1700), (8.95, 0),
           (8.98, -500), (9.01, -300), (9.04, 200), (9.06, -300), (9.08, -600), (9.10, 200),
           (9.12, 100), (9.15, -400), (9.17, -500), (9.20, 0), (9.23, -600), (9.26, -100),
           (9.28, -300), (9.31, 100), (9.34, -500), (9.37, 0), (9.39, -100), (9.42, -300),
           (9.45, 100), (9.50, 200), (9.56, -100), (9.61, 100), (9.67, 0), (9.72, 200), (9.78, -200),
           (9.83, 700), (9.87, -300), (9.93, 100), (9.96, 900), (10.00, 0), (10.02, 600),
           (10.04, 500), (10.07, -200), (10.09, 300), (10.11, 400), (10.14, -100), (10.17, 800),
           (10.20, 1300), (10.24, 700), (10.28, 1000), (10.31, 1200), (10.35, 600), (10.41, 300),
           (10.46, 0), (10.52, -200), (10.57, -400), (10.63, -500), (10.68, -700), (10.72, -800),
           (10.74, -2200), (10.77, -600), (10.81, -1700), (10.83, -400), (10.85, -1100),
           (10.88, -1000), (10.92, 200), (10.96, -400), (11.01, 300), (11.07, -200), (11.12, 200),
           (11.18, -300), (11.23, 300), (11.29, -300), (11.34, 200), (11.40, -400), (11.45, 100),
           (11.51, -200), (11.58, 0), (11.66, -100), (11.73, 100), (11.80, -100), (11.92, -100)]
vlv_blue_tail = [150, 60, 160, 50, 150, 70, 160, 60, 150, 70, 140]
vlv_red_tail = [-90, -70, -90, -60, -70, -50, -60, -40, -50, -30, -30]

cursor_t = 7.63
xticks = [0, 2, 4, 6, 8, 10, 12]

panels = [
    dict(name='Position', ylabel='L_HFE_th,  L_HFE_des_th,  R_HFE_th,  R_HFE_des_th',
         yticks=[0.3, 0.32, 0.34, 0.36, 0.38, 0.4, 0.42, 0.44, 0.46],
         ytl=['0.3', '0.32', '0.34', '0.36', '0.38', '0.4', '0.42', '0.44', '0.46'],
         ylim=(0.282, 0.46)),
    dict(name='Velocity', ylabel='L_HFE_thd  L_HFE_des_thd  R_HFE_thd',
         yticks=[-1, -0.8, -0.6, -0.4, -0.2, 0, 0.2, 0.4, 0.6, 0.8],
         ytl=['-1', '-0.8', '-0.6', '-0.4', '-0.2', '0', '0.2', '0.4', '0.6', '0.8'],
         ylim=(-1, 0.8)),
    dict(name='Torque', ylabel='L_HFE_ths  L_HFE_des_ths  R_HFE_ths',
         yticks=[-150, -100, -50, 0, 50, 100],
         ytl=['-150', '-100', '-50', '0', '50', '100'], ylim=(-150, 100)),
    dict(name='Valve', ylabel='L_HFE_v  L_HFE_des_vlt  R_HFE_v',
         yticks=[-3000, -2000, -1000, 0, 1000, 2000],
         ytl=['-3000', '-2000', '-1000', '0', '1000', '2000'], ylim=(-3000, 2000)),
]

BLUE = (0.0, 0.0, 1.0)
GREEN = (0.15, 0.6, 0.15)
RED = (1.0, 0.12, 0.12)
CYAN = (0.2, 0.85, 0.85)


def xy(pairs):
    a = np.array(pairs, dtype=float)
    return a[:, 0], a[:, 1]


def series(rest, middle, tail):
    t_m, v_m = xy(middle)
    t = np.concatenate([np.array(rest_t[:len(rest)]), t_m, np.array(tail_t)])
    v = np.concatenate([np.array(rest, dtype=float), v_m, np.array(tail, dtype=float)])
    return t, v


W, H = 1219, 945
fig = plt.figure(figsize=(W / 100, H / 100), dpi=100)

# axes boxes in pixels: (top, bottom)
boxes = [(23, 213), (263, 452), (501, 692), (740, 931)]
left_px, right_px = 43, 1218
label_base = [73, 432, 675, 903]
label_x = [62, 62, 58, 62]
ylabel_center = [128, 363, 593, 805]

axes = []
for i, (top, bot) in enumerate(boxes):
    ax = fig.add_axes([left_px / W, 1 - bot / H, (right_px - left_px) / W, (bot - top) / H])
    axes.append(ax)

# Position
ax = axes[0]
for pairs, c in [(pos_blue, BLUE), (pos_green, GREEN), (pos_red, RED), (pos_cyan, CYAN)]:
    t, v = xy(pairs)
    ax.plot(t, v, color=c, lw=1.1)

# Velocity, Torque, Valve: blue (L), green (L desired = 0), red (R)
groups = [
    (vel_blue_rest, vel_blue, vel_blue_tail, vel_red_rest, vel_red, vel_red_tail, 1.0),
    (trq_blue_rest, trq_blue, trq_blue_tail, trq_red_rest, trq_red, trq_red_tail, 1.0),
    (vlv_blue_rest, vlv_blue, vlv_blue_tail, vlv_red_rest, vlv_red, vlv_red_tail, 1.15),
]
for ax, (br, bm, bt, rr, rm, rt, lw) in zip(axes[1:], groups):
    t, v = series(br, bm, bt)
    ax.plot(t, v, color=BLUE, lw=lw)
    ax.plot([0, 13], [0, 0], color=GREEN, lw=1.0)
    t, v = series(rr, rm, rt)
    ax.plot(t, v, color=RED, lw=lw)

for i, (ax, p) in enumerate(zip(axes, panels)):
    ax.axvline(cursor_t, color=(0.95, 0.5, 0.5), lw=2)
    ax.set_xlim(0, 13)
    ax.set_ylim(*p['ylim'])
    ax.set_xticks(xticks)
    ax.set_xticklabels([str(x) for x in xticks])
    ax.set_yticks(p['yticks'])
    ax.set_yticklabels(p['ytl'])
    ax.tick_params(direction='in', length=4, width=0.8, colors='#555555', labelsize=5.5,
                   labelcolor='#333333', top=True, right=True)
    ax.tick_params(axis='x', pad=6)
    ax.tick_params(axis='y', pad=3)
    ax.grid(True, linestyle=(0, (1, 2.5)), color='#8a8a8a', lw=0.8)
    for s in ax.spines.values():
        s.set_color('#7a7a7a')
        s.set_linewidth(1.2)
    fig.text(label_x[i] / W, 1 - label_base[i] / H, p['name'], fontsize=28.5,
             va='baseline', ha='left', color='black')
    fig.text(8 / W, 1 - ylabel_center[i] / H, p['ylabel'], fontsize=6, rotation=90,
             va='center', ha='center', color='#333333')

axes[0].set_title('/home/sgadyk-data/d01445 (23-Nov-2007 09:56:29)', fontsize=5, pad=5,
                  color='#222222')

fig.savefig('out.png', dpi=100)
